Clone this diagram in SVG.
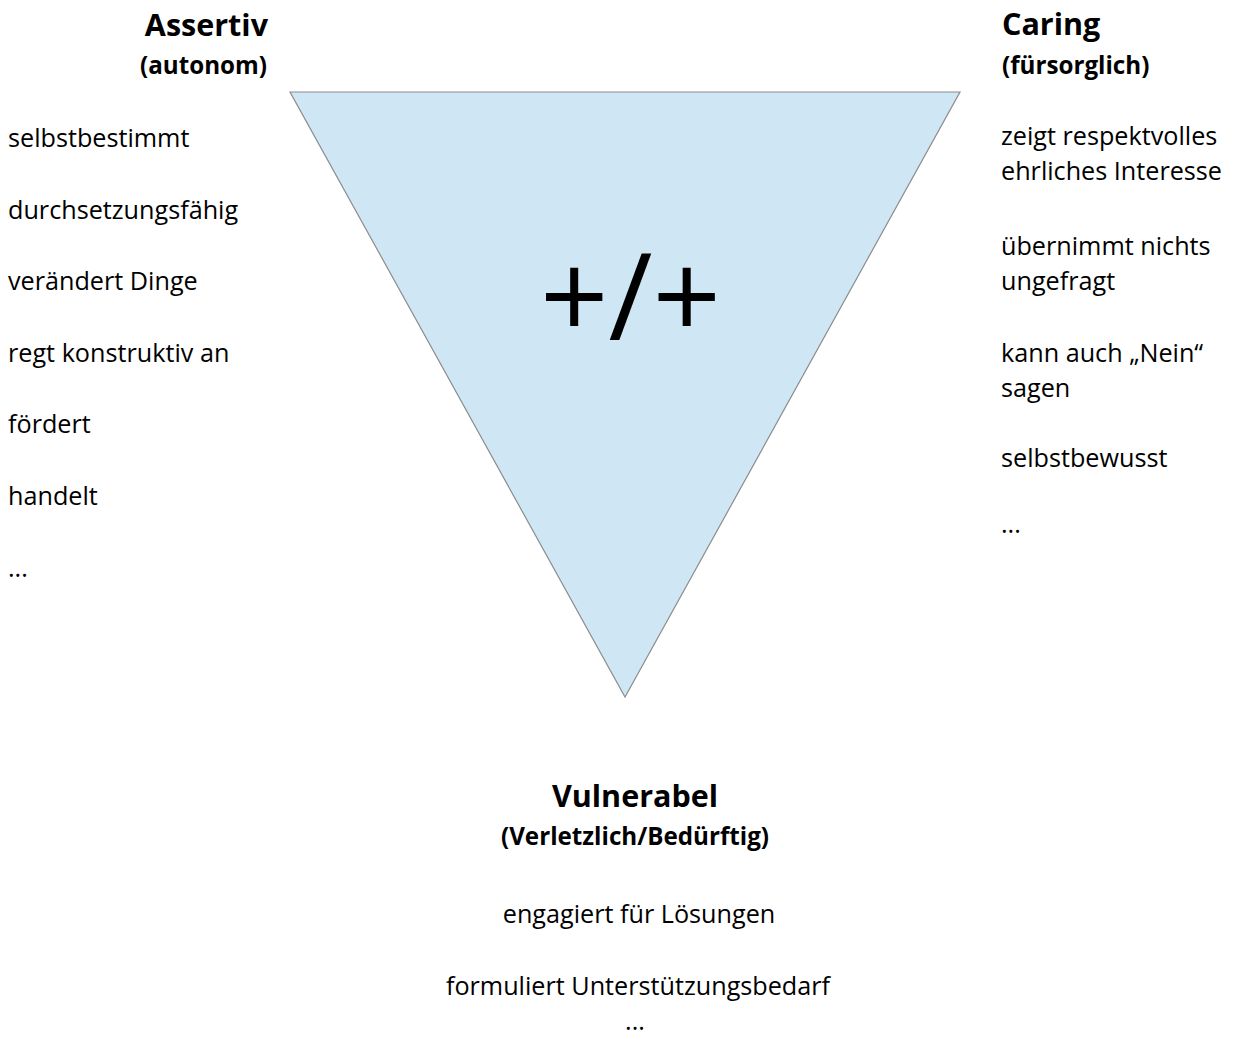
<svg xmlns="http://www.w3.org/2000/svg" width="1236" height="1039" viewBox="0 0 1236 1039">
<style>
text{font-family:"Open Sans","Noto Sans","DejaVu Sans",sans-serif;fill:#000}
.h{font-size:30.5px;font-weight:bold}
.s{font-size:24.2px;font-weight:bold}
.b{font-size:25.2px}
.c{text-anchor:middle}
.e{text-anchor:end}
.tri{fill:#CFE6F4;stroke:#8C8C8C;stroke-width:1.2}
</style>
<rect width="1236" height="1039" fill="#FFFFFF"/>
<g id="triangle">
<polygon class="tri" points="290,92 960,92 625,697"/>
<text x="630.5" y="340" class="c" style="font-size:120px">+/+</text>
</g>
<g id="assertiv">
<text x="268" y="36" class="h e">Assertiv</text>
<text x="267" y="74" class="s e">(autonom)</text>
<text x="8" y="147" class="b">selbstbestimmt</text>
<text x="8" y="219" class="b">durchsetzungsfähig</text>
<text x="8" y="290" class="b">verändert Dinge</text>
<text x="8" y="362" class="b">regt konstruktiv an</text>
<text x="8" y="433" class="b">fördert</text>
<text x="8" y="505" class="b">handelt</text>
<text x="8" y="577" class="b">...</text>
</g>
<g id="caring">
<text x="1002" y="35" class="h">Caring</text>
<text x="1002" y="74" class="s">(fürsorglich)</text>
<text x="1001" y="145" class="b">zeigt respektvolles</text>
<text x="1001" y="180" class="b">ehrliches Interesse</text>
<text x="1001" y="255" class="b">übernimmt nichts</text>
<text x="1001" y="290" class="b">ungefragt</text>
<text x="1001" y="362" class="b">kann auch „Nein“</text>
<text x="1001" y="397" class="b">sagen</text>
<text x="1001" y="467" class="b">selbstbewusst</text>
<text x="1001" y="533" class="b">...</text>
</g>
<g id="vulnerabel">
<text x="635" y="807" class="h c">Vulnerabel</text>
<text x="635" y="845" class="s c">(Verletzlich/Bedürftig)</text>
<text x="639" y="923" class="b c">engagiert für Lösungen</text>
<text x="638" y="995" class="b c">formuliert Unterstützungsbedarf</text>
<text x="635" y="1030" class="b c">...</text>
</g>
<g id="connectors"/>
</svg>
